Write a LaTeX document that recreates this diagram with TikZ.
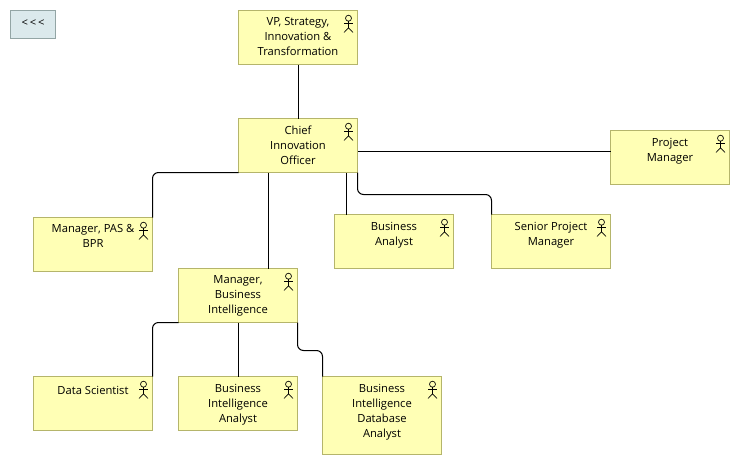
\documentclass[tikz,border=0pt]{standalone}
\usepackage{fontspec}
\setmainfont{Open Sans}
\usepackage{xcolor}
\definecolor{actorfill}{HTML}{FFFFB5}
\definecolor{actorline}{HTML}{B5B56B}
\definecolor{backfill}{HTML}{DBE9EC}
\definecolor{backline}{HTML}{93A5A5}
\usetikzlibrary{positioning, calc}

\tikzset{
  actorbox/.style={rectangle, draw=actorline, fill=actorfill, line width=0.75pt, inner sep=0pt, outer sep=0pt, minimum width=89.25pt, minimum height=40.5pt},
  backbox/.style={rectangle, draw=backline, fill=backfill, line width=0.75pt, inner sep=0pt, outer sep=0pt, minimum width=33.75pt, minimum height=21pt},
  boxtext/.style={anchor=north, inner sep=0pt, align=center, yshift=-5.3pt, font=\fontsize{8.4}{11.25}\selectfont, execute at begin node=\strut},
  link/.style={black, line width=0.75pt},
  elbow/.style={link, rounded corners=4.5pt},
  actor/.pic={
    \draw[black, line width=0.5pt] (-9, 7.7) circle (2.25pt);
    \draw[black, line width=0.5pt] (-9, 10.7) -- (-9, 17.3);
    \draw[black, line width=0.5pt] (-13.4, 12.7) -- (-4.6, 12.7);
    \draw[black, line width=0.5pt] (-13.5, 22) -- (-9, 17.3) -- (-4.5, 22);
  }
}

\begin{document}
\begin{tikzpicture}[x=0.75pt, y=-0.75pt]
        \useasboundingbox (0, 0) rectangle (740, 465);

        % boxes
        \node[backbox] (back) at (33, 24.5) {};
        \node[actorbox] (vp) at (298, 37.5) {};
        \node[actorbox] (chief) at (298, 145.5) {};
        \node[actorbox] (pm) at (670, 157.5) {};
        \node[actorbox] (ba) at (394, 241.5) {};
        \node[actorbox] (spm) at (551, 241.5) {};
        \node[actorbox] (pas) at (93, 244.5) {};
        \node[actorbox] (mgr) at (238, 295.5) {};
        \node[actorbox] (ds) at (93, 403.5) {};
        \node[actorbox] (bia) at (238, 403.5) {};
        \node[actorbox, minimum height=58.5pt] (dba) at (382, 415.5) {};

        % labels
        \node[boxtext, yshift=1.5pt] (backtext) at (back.north) {<\,<\,<};
        \node[boxtext] (vptext) at (vp.north) {VP, Strategy,\\Innovation \&\\Transformation};
        \node[boxtext] (chieftext) at (chief.north) {Chief\\Innovation\\Officer};
        \node[boxtext] (pmtext) at (pm.north) {Project\\Manager};
        \node[boxtext] (batext) at (ba.north) {Business\\Analyst};
        \node[boxtext] (spmtext) at (spm.north) {Senior Project\\Manager};
        \node[boxtext] (pastext) at (pas.north) {Manager, PAS \&\\BPR};
        \node[boxtext] (mgrtext) at (mgr.north) {Manager,\\Business\\Intelligence};
        \node[boxtext] (dstext) at (ds.north) {Data Scientist};
        \node[boxtext] (biatext) at (bia.north) {Business\\Intelligence\\Analyst};
        \node[boxtext] (dbatext) at (dba.north) {Business\\Intelligence\\Database\\Analyst};

        \foreach \n in {vp, chief, pm, ba, spm, pas, mgr, ds, bia, dba}
          \pic at (\n.north east) {actor};

        % connectors
        \draw[link] (vp.south) -- (chief.north);
        \draw[link] ([yshift=4.5pt]pm.west) -- ([yshift=4.5pt]pm.west -| chief.east);
        \draw[link] ([xshift=9pt]ba.north west) -- ([xshift=9pt]ba.north west |- chief.south);
        \draw[link] ([xshift=-22.5pt]chief.south) -- ([xshift=-22.5pt]chief.south |- mgr.north);
        \draw[link] (mgr.south) -- (bia.north);
        \draw[elbow] (chief.south west) -| (pas.north east);
        \draw[elbow] (mgr.south west) -| (ds.north east);
        \draw[elbow] (chief.south east) |- ($(spm.north west)+(-60,-20)$) -| (spm.north west);
        \draw[elbow] (mgr.south east) |- ($(dba.north west)+(-12,-26)$) -| (dba.north west);
\end{tikzpicture}
\end{document}
